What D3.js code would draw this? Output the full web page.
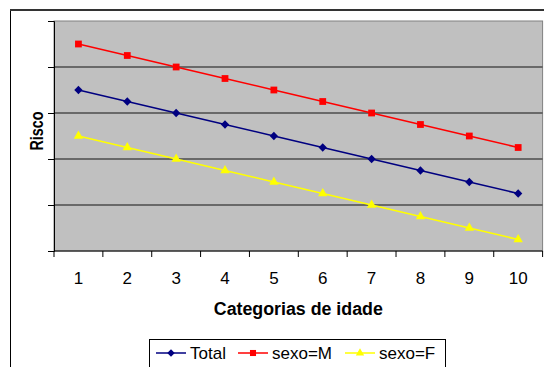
<!DOCTYPE html>
<html>
<head>
<meta charset="utf-8">
<script src="https://cdn.jsdelivr.net/npm/d3@7"></script>
<style>
  body { margin: 0; background: #fff; }
  svg { display: block; font-family: Arial, "Liberation Sans", sans-serif; }
</style>
</head>
<body>
<svg id="chart" width="544" height="367"></svg>
<script>
// categorias de idade
const categories = ['1', '2', '3', '4', '5', '6', '7', '8', '9', '10']
// risco (no labels on the y axis, values read as grid units)
const total = [3.5, 3.25, 3.0, 2.75, 2.5, 2.25, 2.0, 1.75, 1.5, 1.25]
const sexoM = [4.5, 4.25, 4.0, 3.75, 3.5, 3.25, 3.0, 2.75, 2.5, 2.25]
const sexoF = [2.5, 2.25, 2.0, 1.75, 1.5, 1.25, 1.0, 0.75, 0.5, 0.25]
const yTicks = [0, 1, 2, 3, 4, 5]

const series = [
    { name: 'Total', values: total, color: '#000080', marker: 'diamond' },
    { name: 'sexo=M', values: sexoM, color: '#ff0000', marker: 'square' },
    { name: 'sexo=F', values: sexoF, color: '#ffff00', marker: 'triangle' }
]

const margin = { left: 54, top: 21, right: 542.6, bottom: 251 }

const svg = d3.select('#chart')

// chart area border
svg.append('rect')
    .attr('x', 10.5).attr('y', 10.5)
    .attr('width', 600).attr('height', 400)
    .attr('fill', 'white')
    .attr('stroke', '#000')
    .attr('stroke-width', 1)
svg.append('line')
    .attr('x1', 10).attr('x2', 544)
    .attr('y1', 10).attr('y2', 10)
    .attr('stroke', '#333')
    .attr('stroke-width', 2)

const x = d3.scaleBand()
    .domain(categories)
    .range([margin.left, margin.right])
    .padding(0)

const y = d3.scaleLinear()
    .domain([0, 5])
    .range([margin.bottom, margin.top])

// plot area
svg.append('rect')
    .attr('x', margin.left)
    .attr('y', margin.top)
    .attr('width', margin.right - margin.left)
    .attr('height', margin.bottom - margin.top)
    .attr('fill', '#c0c0c0')
    .attr('stroke', '#808080')
    .attr('stroke-width', 1)

// grid lines
svg.append('g')
    .selectAll('line')
    .data(yTicks.slice(1, -1))
    .join('line')
    .attr('x1', margin.left)
    .attr('x2', margin.right)
    .attr('y1', d => y(d))
    .attr('y2', d => y(d))
    .attr('stroke', '#4d4d4d')
    .attr('stroke-width', 1.5)

// y axis
const yAxis = d3.axisLeft(y).tickValues(yTicks).tickSize(6).tickFormat('')
svg.append('g')
    .attr('transform', `translate(${margin.left},0)`)
    .call(yAxis)
    .call(g => g.select('.domain').attr('stroke', '#000'))
    .call(g => g.selectAll('.tick line').attr('stroke', '#000'))

// x axis - labels at category centres, ticks between categories
const xAxis = d3.axisBottom(x).tickSize(0).tickPadding(0)
svg.append('g')
    .attr('transform', `translate(0,${margin.bottom})`)
    .call(xAxis)
    .call(g => g.select('.domain').remove())
    .call(g => g.selectAll('text')
        .attr('y', 33)
        .attr('dy', 0)
        .attr('font-size', 17)
        .attr('font-family', 'Arial, "Liberation Sans", sans-serif')
        .attr('fill', '#000'))

const edges = categories.map(c => x(c)).concat([x.range()[1]])
svg.append('g')
    .selectAll('line')
    .data(edges)
    .join('line')
    .attr('x1', d => d).attr('x2', d => d)
    .attr('y1', margin.bottom).attr('y2', margin.bottom + 6)
    .attr('stroke', '#000')
svg.append('line')
    .attr('x1', margin.left).attr('x2', margin.right)
    .attr('y1', margin.bottom).attr('y2', margin.bottom)
    .attr('stroke', '#000')

// markers
const symbolFor = m => m === 'diamond' ? d3.symbolDiamond2 : m === 'square' ? d3.symbolSquare : d3.symbolTriangle
const markerSize = m => m === 'diamond' ? 44 : m === 'square' ? 46 : 38

const line = d3.line()
    .x((d, i) => x(categories[i]) + x.bandwidth() / 2)
    .y(d => y(d))

series.forEach(s => {
    svg.append('path')
        .datum(s.values)
        .attr('d', line)
        .attr('fill', 'none')
        .attr('stroke', s.color)
        .attr('stroke-width', 1.5)

    svg.append('g')
        .selectAll('path')
        .data(s.values)
        .join('path')
        .attr('transform', (d, i) => `translate(${x(categories[i]) + x.bandwidth() / 2},${y(d)})`)
        .attr('d', d3.symbol().type(symbolFor(s.marker)).size(markerSize(s.marker)))
        .attr('fill', s.color)
})

// axis titles
svg.append('text')
    .text('Risco')
    .attr('transform', `translate(43,131) rotate(-90)`)
    .attr('text-anchor', 'middle')
    .attr('font-size', 17.5)
    .attr('font-weight', 'bold')
    .attr('textLength', 39)
    .attr('lengthAdjust', 'spacingAndGlyphs')

svg.append('text')
    .text('Categorias de idade')
    .attr('x', (margin.left + margin.right) / 2)
    .attr('y', 315)
    .attr('text-anchor', 'middle')
    .attr('font-size', 18)
    .attr('font-weight', 'bold')
    .attr('textLength', 169)
    .attr('lengthAdjust', 'spacingAndGlyphs')

// legend
const legend = svg.append('g')
legend.append('rect')
    .attr('x', 149.5).attr('y', 339.5)
    .attr('width', 296).attr('height', 40)
    .attr('fill', 'white')
    .attr('stroke', '#000')

const legendX = [156, 238, 345]
series.forEach((s, i) => {
    const g = legend.append('g').attr('transform', `translate(${legendX[i]},353)`)
    g.append('line')
        .attr('x1', 0).attr('x2', 30)
        .attr('stroke', s.color)
        .attr('stroke-width', 1.5)
    g.append('path')
        .attr('transform', 'translate(15,0)')
        .attr('d', d3.symbol().type(symbolFor(s.marker)).size(markerSize(s.marker) * 0.8))
        .attr('fill', s.color)
    g.append('text')
        .text(s.name)
        .attr('x', 34)
        .attr('y', 6)
        .attr('font-size', 17)
})
</script>
</body>
</html>
